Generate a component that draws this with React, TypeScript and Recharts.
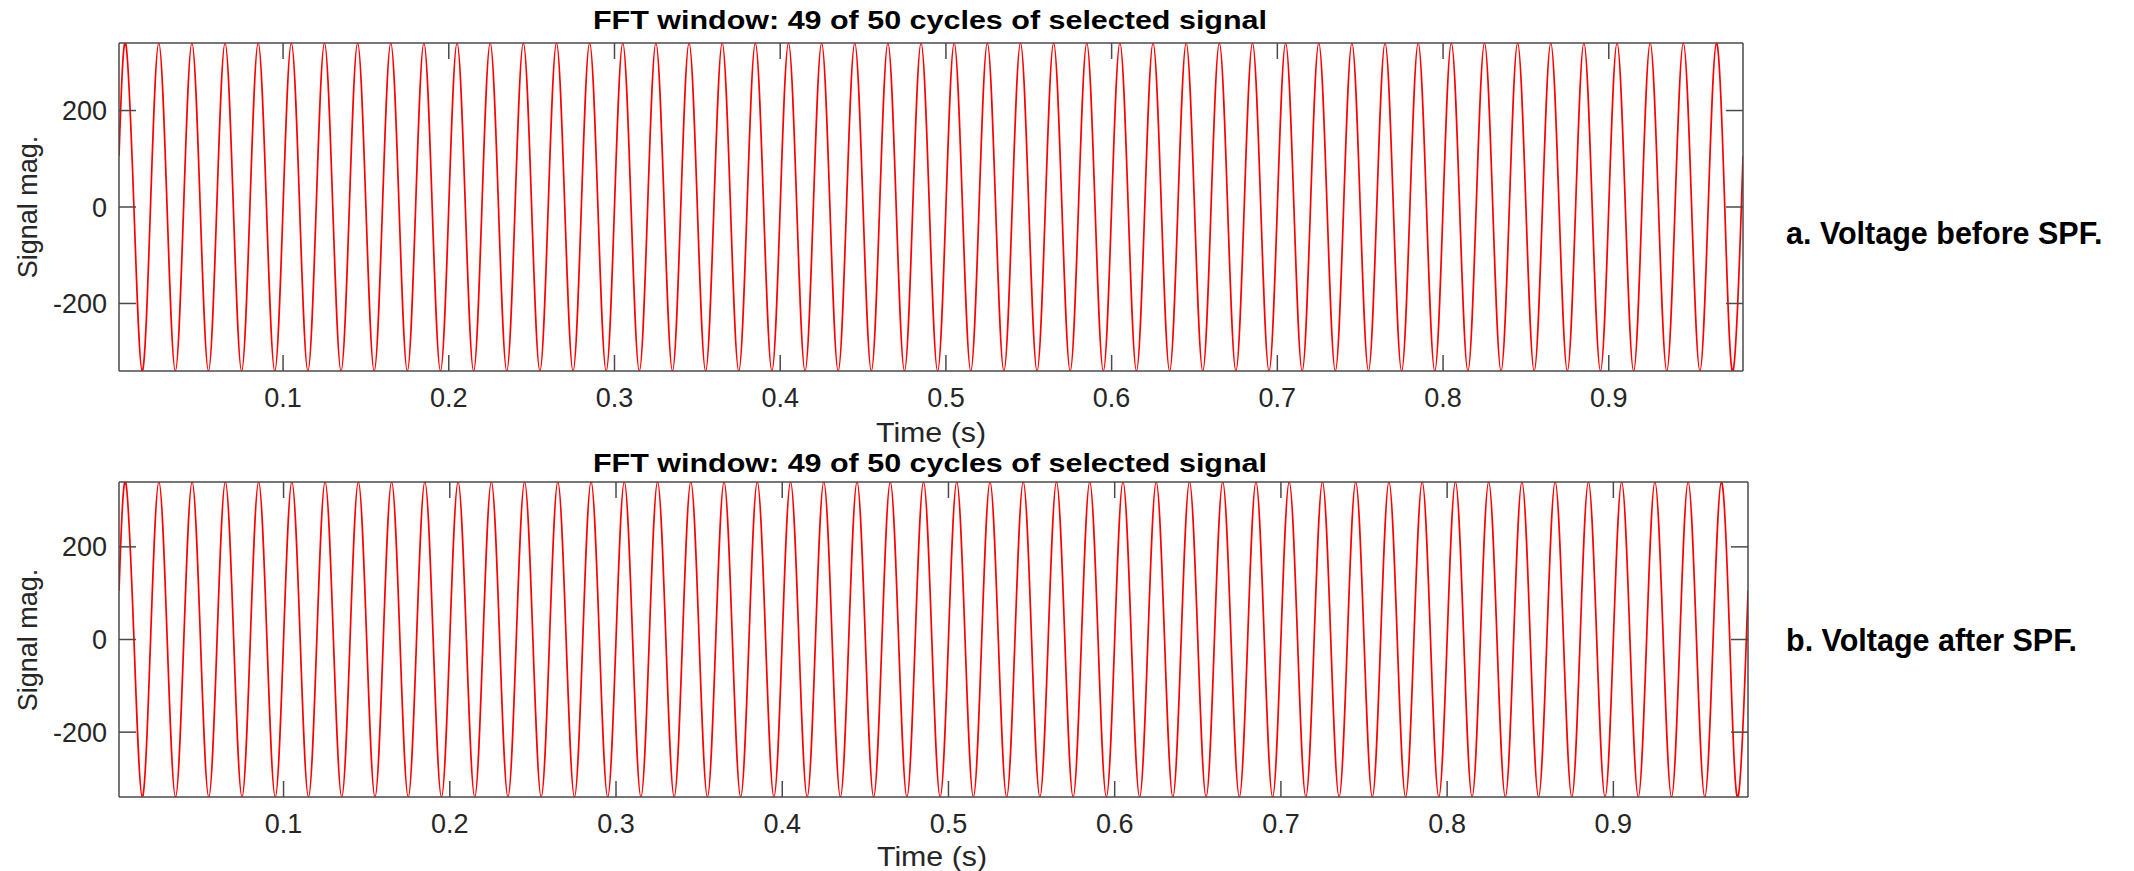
import React from 'react';
import { LineChart, Line, XAxis, YAxis } from 'recharts';

// Sample times (s): start of FFT window, then quarter-cycle points of the 50 Hz wave, end of window
const timeSec = [
  0.001,
  0.005, 0.010, 0.015, 0.020, 0.025, 0.030, 0.035, 0.040, 0.045, 0.050,
  0.055, 0.060, 0.065, 0.070, 0.075, 0.080, 0.085, 0.090, 0.095, 0.100,
  0.105, 0.110, 0.115, 0.120, 0.125, 0.130, 0.135, 0.140, 0.145, 0.150,
  0.155, 0.160, 0.165, 0.170, 0.175, 0.180, 0.185, 0.190, 0.195, 0.200,
  0.205, 0.210, 0.215, 0.220, 0.225, 0.230, 0.235, 0.240, 0.245, 0.250,
  0.255, 0.260, 0.265, 0.270, 0.275, 0.280, 0.285, 0.290, 0.295, 0.300,
  0.305, 0.310, 0.315, 0.320, 0.325, 0.330, 0.335, 0.340, 0.345, 0.350,
  0.355, 0.360, 0.365, 0.370, 0.375, 0.380, 0.385, 0.390, 0.395, 0.400,
  0.405, 0.410, 0.415, 0.420, 0.425, 0.430, 0.435, 0.440, 0.445, 0.450,
  0.455, 0.460, 0.465, 0.470, 0.475, 0.480, 0.485, 0.490, 0.495, 0.500,
  0.505, 0.510, 0.515, 0.520, 0.525, 0.530, 0.535, 0.540, 0.545, 0.550,
  0.555, 0.560, 0.565, 0.570, 0.575, 0.580, 0.585, 0.590, 0.595, 0.600,
  0.605, 0.610, 0.615, 0.620, 0.625, 0.630, 0.635, 0.640, 0.645, 0.650,
  0.655, 0.660, 0.665, 0.670, 0.675, 0.680, 0.685, 0.690, 0.695, 0.700,
  0.705, 0.710, 0.715, 0.720, 0.725, 0.730, 0.735, 0.740, 0.745, 0.750,
  0.755, 0.760, 0.765, 0.770, 0.775, 0.780, 0.785, 0.790, 0.795, 0.800,
  0.805, 0.810, 0.815, 0.820, 0.825, 0.830, 0.835, 0.840, 0.845, 0.850,
  0.855, 0.860, 0.865, 0.870, 0.875, 0.880, 0.885, 0.890, 0.895, 0.900,
  0.905, 0.910, 0.915, 0.920, 0.925, 0.930, 0.935, 0.940, 0.945, 0.950,
  0.955, 0.960, 0.965, 0.970, 0.975, 0.980,
  0.981,
];

// Voltage before the filter (V), read at the sample times above
const voltageBeforeSPF = [
  105,
  340, 0, -340, 0, 340, 0, -340, 0, 340, 0,
  -340, 0, 340, 0, -340, 0, 340, 0, -340, 0,
  340, 0, -340, 0, 340, 0, -340, 0, 340, 0,
  -340, 0, 340, 0, -340, 0, 340, 0, -340, 0,
  340, 0, -340, 0, 340, 0, -340, 0, 340, 0,
  -340, 0, 340, 0, -340, 0, 340, 0, -340, 0,
  340, 0, -340, 0, 340, 0, -340, 0, 340, 0,
  -340, 0, 340, 0, -340, 0, 340, 0, -340, 0,
  340, 0, -340, 0, 340, 0, -340, 0, 340, 0,
  -340, 0, 340, 0, -340, 0, 340, 0, -340, 0,
  340, 0, -340, 0, 340, 0, -340, 0, 340, 0,
  -340, 0, 340, 0, -340, 0, 340, 0, -340, 0,
  340, 0, -340, 0, 340, 0, -340, 0, 340, 0,
  -340, 0, 340, 0, -340, 0, 340, 0, -340, 0,
  340, 0, -340, 0, 340, 0, -340, 0, 340, 0,
  -340, 0, 340, 0, -340, 0, 340, 0, -340, 0,
  340, 0, -340, 0, 340, 0, -340, 0, 340, 0,
  -340, 0, 340, 0, -340, 0, 340, 0, -340, 0,
  340, 0, -340, 0, 340, 0, -340, 0, 340, 0,
  -340, 0, 340, 0, -340, 0,
  105,
];

// Voltage after the filter (V), read at the same sample times
const voltageAfterSPF = [
  105,
  340, 0, -340, 0, 340, 0, -340, 0, 340, 0,
  -340, 0, 340, 0, -340, 0, 340, 0, -340, 0,
  340, 0, -340, 0, 340, 0, -340, 0, 340, 0,
  -340, 0, 340, 0, -340, 0, 340, 0, -340, 0,
  340, 0, -340, 0, 340, 0, -340, 0, 340, 0,
  -340, 0, 340, 0, -340, 0, 340, 0, -340, 0,
  340, 0, -340, 0, 340, 0, -340, 0, 340, 0,
  -340, 0, 340, 0, -340, 0, 340, 0, -340, 0,
  340, 0, -340, 0, 340, 0, -340, 0, 340, 0,
  -340, 0, 340, 0, -340, 0, 340, 0, -340, 0,
  340, 0, -340, 0, 340, 0, -340, 0, 340, 0,
  -340, 0, 340, 0, -340, 0, 340, 0, -340, 0,
  340, 0, -340, 0, 340, 0, -340, 0, 340, 0,
  -340, 0, 340, 0, -340, 0, 340, 0, -340, 0,
  340, 0, -340, 0, 340, 0, -340, 0, 340, 0,
  -340, 0, 340, 0, -340, 0, 340, 0, -340, 0,
  340, 0, -340, 0, 340, 0, -340, 0, 340, 0,
  -340, 0, 340, 0, -340, 0, 340, 0, -340, 0,
  340, 0, -340, 0, 340, 0, -340, 0, 340, 0,
  -340, 0, 340, 0, -340, 0,
  105,
];

const timeDomain = [0.001, 0.981];
const timeTicks = [0.1, 0.2, 0.3, 0.4, 0.5, 0.6, 0.7, 0.8, 0.9];
const timeTickLabels = ['0.1', '0.2', '0.3', '0.4', '0.5', '0.6', '0.7', '0.8', '0.9'];
const magDomain = [-340, 340];
const magTicks = [-200, 0, 200];
const magTickLabels = ['-200', '0', '200'];

const titleText = 'FFT window: 49 of 50 cycles of selected signal';
const xLabelText = 'Time (s)';
const yLabelText = 'Signal mag.';
const captionA = 'a. Voltage before SPF.';
const captionB = 'b. Voltage after SPF.';

const FONT = '"Liberation Sans", Arial, Helvetica, sans-serif';
const AXIS = '#4a4a4a';
const TICK_TEXT = '#262626';
const LINE = '#ff0000';

const labelFor = (ticks: number[], labels: string[], v: number) => {
  const i = ticks.findIndex((t) => Math.abs(t - v) < 1e-9);
  return i >= 0 ? labels[i] : String(v);
};

const BottomTick = (props: any) => {
  const { x, y, payload } = props;
  return (
    <g>
      <line x1={x} x2={x} y1={y} y2={y - 16} stroke={AXIS} strokeWidth={1.5} />
      <text x={x} y={y + 36} textAnchor="middle" fontSize={27} fontFamily={FONT} fill={TICK_TEXT}>
        {labelFor(timeTicks, timeTickLabels, payload.value)}
      </text>
    </g>
  );
};

const TopTick = (props: any) => {
  const { x, y } = props;
  return <line x1={x} x2={x} y1={y} y2={y + 16} stroke={AXIS} strokeWidth={1.5} />;
};

const LeftTick = (props: any) => {
  const { x, y, payload } = props;
  return (
    <g>
      <line x1={x} x2={x + 17} y1={y} y2={y} stroke={AXIS} strokeWidth={1.5} />
      <text x={x - 12} y={y + 9.5} textAnchor="end" fontSize={27} fontFamily={FONT} fill={TICK_TEXT}>
        {labelFor(magTicks, magTickLabels, payload.value)}
      </text>
    </g>
  );
};

const RightTick = (props: any) => {
  const { x, y } = props;
  return <line x1={x} x2={x - 17} y1={y} y2={y} stroke={AXIS} strokeWidth={1.5} />;
};

type PanelProps = {
  top: number;
  height: number;
  margin: { top: number; right: number; bottom: number; left: number };
  values: number[];
};

const Panel = ({ top, height, margin, values }: PanelProps) => {
  const rows = timeSec.map((t, i) => ({ t, v: values[i] }));
  const axisLine = { stroke: AXIS, strokeWidth: 1.5 };
  return (
    <div style={{ position: 'absolute', left: 0, top, width: 2134, height }}>
      <LineChart width={2134} height={height} data={rows} margin={margin}>
        <XAxis
          xAxisId="b"
          dataKey="t"
          type="number"
          domain={timeDomain}
          ticks={timeTicks}
          interval={0}
          allowDataOverflow
          height={1}
          tickSize={0}
          tickMargin={0}
          tickLine={false}
          axisLine={axisLine}
          tick={<BottomTick />}
        />
        <XAxis
          xAxisId="t"
          dataKey="t"
          type="number"
          orientation="top"
          domain={timeDomain}
          ticks={timeTicks}
          interval={0}
          allowDataOverflow
          height={1}
          tickSize={0}
          tickMargin={0}
          tickLine={false}
          axisLine={axisLine}
          tick={<TopTick />}
        />
        <YAxis
          yAxisId="l"
          type="number"
          domain={magDomain}
          ticks={magTicks}
          interval={0}
          allowDataOverflow
          width={1}
          tickSize={0}
          tickMargin={0}
          tickLine={false}
          axisLine={axisLine}
          tick={<LeftTick />}
        />
        <YAxis
          yAxisId="r"
          orientation="right"
          type="number"
          domain={magDomain}
          ticks={magTicks}
          interval={0}
          allowDataOverflow
          width={1}
          tickSize={0}
          tickMargin={0}
          tickLine={false}
          axisLine={axisLine}
          tick={<RightTick />}
        />
        <Line
          xAxisId="b"
          yAxisId="l"
          type="natural"
          dataKey="v"
          stroke={LINE}
          strokeWidth={1.7}
          dot={false}
          activeDot={false}
          isAnimationActive={false}
        />
      </LineChart>
    </div>
  );
};

const Overlay = () => (
  <svg
    width={2134}
    height={871}
    style={{ position: 'absolute', left: 0, top: 0, pointerEvents: 'none' }}
  >
    <g fontFamily={FONT}>
      <text x={930} y={28.5} textAnchor="middle" fontSize={26} fontWeight="bold" fill="#000"
        textLength={674} lengthAdjust="spacingAndGlyphs">{titleText}</text>
      <text x={931} y={442} textAnchor="middle" fontSize={27} fill={TICK_TEXT}
        textLength={110} lengthAdjust="spacingAndGlyphs">{xLabelText}</text>
      <text transform="translate(37,207) rotate(-90)" textAnchor="middle" fontSize={27} fill={TICK_TEXT}>{yLabelText}</text>
      <text x={1786} y={244} fontSize={30.5} fontWeight="bold" fill="#000">{captionA}</text>

      <text x={930} y={471.5} textAnchor="middle" fontSize={26} fontWeight="bold" fill="#000"
        textLength={674} lengthAdjust="spacingAndGlyphs">{titleText}</text>
      <text x={932} y={866} textAnchor="middle" fontSize={27} fill={TICK_TEXT}
        textLength={110} lengthAdjust="spacingAndGlyphs">{xLabelText}</text>
      <text transform="translate(37,640) rotate(-90)" textAnchor="middle" fontSize={27} fill={TICK_TEXT}>{yLabelText}</text>
      <text x={1786} y={651} fontSize={30.5} fontWeight="bold" fill="#000">{captionB}</text>
    </g>
  </svg>
);

export default function App() {
  return (
    <div style={{ position: 'absolute', left: 0, top: 0, width: 2134, height: 871, background: '#fff' }}>
      <Panel top={0} height={440} margin={{ top: 42, right: 390, bottom: 68, left: 118 }} values={voltageBeforeSPF} />
      <Panel top={440} height={431} margin={{ top: 41, right: 385, bottom: 73, left: 118 }} values={voltageAfterSPF} />
      <Overlay />
    </div>
  );
}
